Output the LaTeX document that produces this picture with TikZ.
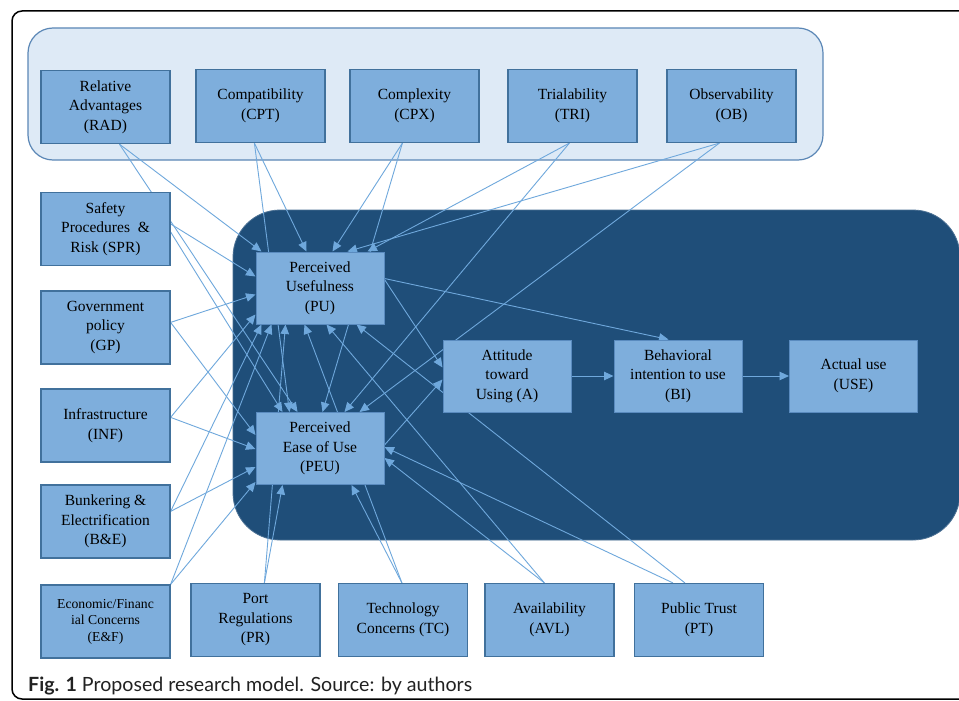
\documentclass[tikz,border=0pt]{standalone}
\usepackage{fontspec}
\setmainfont{Liberation Serif}
\newfontfamily\capfont{Lato}
\usetikzlibrary{arrows.meta}
\definecolor{boxfill}{HTML}{7EAEDC}
\definecolor{boxline}{HTML}{41719C}
\definecolor{inline}{HTML}{5A8BBF}
\definecolor{topfill}{HTML}{DEEAF6}
\definecolor{topline}{HTML}{5B87B6}
\definecolor{darkfill}{HTML}{1F4E79}
\definecolor{edgecol}{HTML}{6FA8DC}
\definecolor{captext}{HTML}{222222}
\pgfdeclarelayer{bg}
\pgfdeclarelayer{edges}
\pgfsetlayers{bg,edges,main}
\tikzset{
  obox/.style={draw=boxline, fill=boxfill, line width=1.2pt, minimum width=129pt,
    minimum height=73pt, inner sep=0pt, align=center, text=black,
    font=\fontsize{15.5}{19.5}\selectfont},
  ibox/.style={obox, draw=inline, line width=1pt, minimum width=128pt, minimum height=72pt},
  conn/.style={draw=edgecol, line width=0.9pt, -{Triangle[length=9.5pt,width=8.5pt]}},
}
\begin{document}
\begin{tikzpicture}[x=1pt,y=-1pt]
\useasboundingbox (0,0) rectangle (959,701);
\begin{pgfonlayer}{bg}
  \fill[white] (0,0) rectangle (959,701);
  \draw[black, line width=1.5pt, rounded corners=10pt] (12,11) rectangle (1000,699);
  \draw[topline, fill=topfill, line width=1.2pt, rounded corners=25pt] (28,28) rectangle (823,160);
  \draw[fill=darkfill, draw=darkfill!80!white, line width=0.8pt, rounded corners=47pt] (233,210) rectangle (960,540);
\end{pgfonlayer}

% DOI factors
\node[obox] (RAD) at (105.5,107) {Relative\\Advantages\\(RAD)};
\node[obox] (CPT) at (260.5,106) {Compatibility\\(CPT)};
\node[obox] (CPX) at (414.5,106) {Complexity\\(CPX)};
\node[obox] (TRI) at (572.5,106) {Trialability\\(TRI)};
\node[obox] (OB)  at (731.5,106) {Observability\\(OB)};
% left column
\node[obox] (SPR) at (105.5,229) {Safety\\Procedures~~\&\\Risk (SPR)};
\node[obox] (GP)  at (105.5,327.5) {Government\\policy\\(GP)};
\node[obox] (INF) at (105.5,425.5) {Infrastructure\\(INF)};
\node[obox] (BE)  at (105.5,521.5) {Bunkering \&\\Electrification\\(B\&E)};
\node[obox, font=\fontsize{13.7}{16.5}\selectfont] (EF) at (105.5,621.5) {Economic/Financ\\ial Concerns\\(E\&F)};
% bottom row
\node[obox] (PR)  at (255.5,620) {Port\\Regulations\\(PR)};
\node[obox] (TC)  at (403,620) {Technology\\Concerns (TC)};
\node[obox] (AVL) at (549.5,620) {Availability\\(AVL)};
\node[obox] (PT)  at (699,620) {Public Trust\\(PT)};
% TAM core
\node[ibox] (PU)  at (320,288) {Perceived\\Usefulness\\(PU)};
\node[ibox] (PEU) at (320,448.5) {Perceived\\Ease of Use\\(PEU)};
\node[ibox] (A)   at (507,376) {Attitude\\toward\\Using (A)};
\node[ibox] (BI)  at (678,376) {Behavioral\\intention to use\\(BI)};
\node[ibox] (USE) at (853.5,376) {Actual use\\(USE)};

\node[anchor=base west, inner sep=0pt, text=captext,
  font=\capfont\fontsize{19.6}{23}\selectfont] (cap) at (28,691)
  {\textbf{Fig. 1} Proposed research model. Source: by authors};

\begin{pgfonlayer}{edges}
  % DOI -> PU / PEU
  \draw[conn] ([xshift=79pt]RAD.south west) -- ([xshift=6pt]PU.north west);
  \draw[conn] ([xshift=79pt]RAD.south west) -- ([xshift=42pt]PEU.north west);
  \draw[conn] ([xshift=59pt]CPT.south west) -- ([xshift=51pt]PU.north west);
  \draw[conn] ([xshift=59pt]CPT.south west) -- ([xshift=34pt]PEU.north west);
  \draw[conn] ([xshift=53pt]CPX.south west) -- ([xshift=77pt]PU.north west);
  \draw[conn] ([xshift=53pt]CPX.south west) -- ([xshift=67pt]PEU.north west);
  \draw[conn] ([xshift=62pt]TRI.south west) -- ([xshift=112pt]PU.north west);
  \draw[conn] ([xshift=62pt]TRI.south west) -- ([xshift=89pt]PEU.north west);
  \draw[conn] ([xshift=53pt]OB.south west) -- ([xshift=92pt]PU.north west);
  \draw[conn] ([xshift=53pt]OB.south west) -- ([xshift=104pt]PEU.north west);
  % left column -> PU / PEU
  \draw[conn] ([yshift=-32pt]SPR.north east) -- ([yshift=-25pt]PU.north west);
  \draw[conn] ([yshift=-40pt]SPR.north east) -- ([xshift=27pt]PEU.north west);
  \draw[conn] ([yshift=-32pt]GP.north east) -- ([yshift=-43pt]PU.north west);
  \draw[conn] ([yshift=-32pt]GP.north east) -- ([yshift=-23pt]PEU.north west);
  \draw[conn] ([yshift=-29pt]INF.north east) -- ([yshift=-63pt]PU.north west);
  \draw[conn] ([yshift=-29pt]INF.north east) -- ([yshift=-37pt]PEU.north west);
  \draw[conn] ([yshift=-27pt]BE.north east) -- ([xshift=6pt]PU.south west);
  \draw[conn] ([yshift=-27pt]BE.north east) -- ([yshift=-55pt]PEU.north west);
  \draw[conn] (EF.north east) -- ([xshift=16pt]PU.south west);
  \draw[conn] (EF.north east) -- ([yshift=-70pt]PEU.north west);
  % bottom row -> PU / PEU
  \draw[conn] ([xshift=74pt]PR.north west) -- ([xshift=30pt]PU.south west);
  \draw[conn] ([xshift=74pt]PR.north west) -- ([xshift=27pt]PEU.south west);
  \draw[conn] ([xshift=64pt]TC.north west) -- ([xshift=49pt]PU.south west);
  \draw[conn] ([xshift=64pt]TC.north west) -- ([xshift=96pt]PEU.south west);
  \draw[conn] ([xshift=60pt]AVL.north west) -- ([xshift=71pt]PU.south west);
  \draw[conn] ([xshift=60pt]AVL.north west) -- ([yshift=-46pt]PEU.north east);
  \draw[conn] ([xshift=51pt]PT.north west) -- ([xshift=101pt]PU.south west);
  \draw[conn] ([xshift=39pt]PT.north west) -- ([yshift=-35pt]PEU.north east);
  % TAM paths
  \draw[conn] ([yshift=-28pt]PU.north east) -- ([yshift=-28pt]A.north west);
  \draw[conn] ([yshift=-33pt]PEU.north east) -- ([yshift=-40pt]A.north west);
  \draw[conn] ([yshift=-27pt]PU.north east) -- ([xshift=55pt]BI.north west);
  \draw[conn] (A.east) -- (BI.west);
  \draw[conn] (BI.east) -- (USE.west);
\end{pgfonlayer}
\end{tikzpicture}
\end{document}
